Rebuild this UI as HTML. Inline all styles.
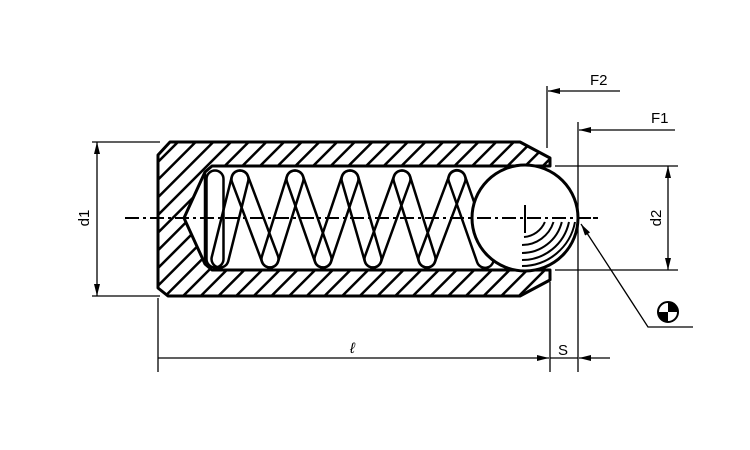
<!DOCTYPE html>
<html><head><style>
html,body{margin:0;padding:0;background:#fff;}
svg{display:block;}
text{font-family:"Liberation Sans",sans-serif;font-size:15px;fill:#000;}
</style></head><body>
<svg width="750" height="450" viewBox="0 0 750 450" xmlns="http://www.w3.org/2000/svg">
<defs>
<pattern id="h" patternUnits="userSpaceOnUse" width="12.5" height="12.5" patternTransform="rotate(45)">
<rect width="12.5" height="12.5" fill="#fff"/>
<line x1="0" y1="0" x2="0" y2="12.5" stroke="#000" stroke-width="5"/>
</pattern>
<marker id="a" viewBox="0 0 12 6" refX="12" refY="3" markerWidth="12" markerHeight="6" markerUnits="userSpaceOnUse" orient="auto"><path d="M0,0 L12,3 L0,6z" fill="#000"/></marker>
</defs>
<path fill="url(#h)" fill-rule="evenodd" stroke="#000" stroke-width="3" stroke-linejoin="round"
d="M158,155 L170,142 L520,142 L550,158 L550,166 L212,166 L205,172 L184,218 L205,264 L212,270 L550,270 L550,280 L520,296 L168,296 L158,288 Z"/>
<line x1="125" y1="218" x2="598" y2="218" stroke="#000" stroke-width="2" stroke-dasharray="14,4,3,4"/>
<g fill="none" stroke="#000" stroke-width="2.5">
<line x1="205" y1="172" x2="205" y2="264"/>
<rect x="-48.5" y="-8.5" width="97" height="17" rx="8.5" transform="translate(215,219) rotate(90)"/>
<rect x="-49.75" y="-8.5" width="99.5" height="17" rx="8.5" transform="translate(230,219) rotate(-76)"/>
<rect x="-51.2" y="-8.5" width="102.4" height="17" rx="8.5" transform="translate(255,219) rotate(69.4)"/>
<rect x="-50.4" y="-8.5" width="100.8" height="17" rx="8.5" transform="translate(282.5,219) rotate(-72.6)"/>
<rect x="-50.9" y="-8.5" width="101.8" height="17" rx="8.5" transform="translate(309,219) rotate(70.7)"/>
<rect x="-50.7" y="-8.5" width="101.4" height="17" rx="8.5" transform="translate(336.5,219) rotate(-71.4)"/>
<rect x="-50.1" y="-8.5" width="100.2" height="17" rx="8.5" transform="translate(361.5,219) rotate(74)"/>
<rect x="-51.05" y="-8.5" width="102.1" height="17" rx="8.5" transform="translate(387.5,219) rotate(-70.1)"/>
<rect x="-50.4" y="-8.5" width="100.8" height="17" rx="8.5" transform="translate(414.5,219) rotate(72.6)"/>
<rect x="-51.2" y="-8.5" width="102.4" height="17" rx="8.5" transform="translate(442,219) rotate(-69.4)"/>
<rect x="-51.2" y="-8.5" width="102.4" height="17" rx="8.5" transform="translate(471,219) rotate(70.7)"/>
</g>
<circle cx="525" cy="218" r="53" fill="#fff" stroke="#000" stroke-width="3"/>
<line x1="477" y1="218" x2="598" y2="218" stroke="#000" stroke-width="2" stroke-dasharray="14,4,3,4"/>
<line x1="525" y1="205" x2="525" y2="233" stroke="#000" stroke-width="2"/>
<g fill="none" stroke="#000" stroke-width="2">
<path d="M544.9,222 A25,25 0 0 1 524,237"/>
<path d="M553.5,222 A33,33 0 0 1 522,245"/>
<path d="M561.8,222 A41,41 0 0 1 522,253"/>
<path d="M569,222 A48,48 0 0 1 522,260"/>
<path d="M575,222 A54,54 0 0 1 522,266"/>
</g>
<g stroke="#000" stroke-width="1.3" fill="none">
<line x1="92" y1="142" x2="160" y2="142"/>
<line x1="92" y1="296" x2="160" y2="296"/>
<line x1="97" y1="218" x2="97" y2="142" marker-end="url(#a)"/>
<line x1="97" y1="218" x2="97" y2="296" marker-end="url(#a)"/>
<line x1="555" y1="166" x2="678" y2="166"/>
<line x1="555" y1="270" x2="678" y2="270"/>
<line x1="668" y1="218" x2="668" y2="166" marker-end="url(#a)"/>
<line x1="668" y1="218" x2="668" y2="270" marker-end="url(#a)"/>
<line x1="547" y1="86" x2="547" y2="148"/>
<line x1="620" y1="91" x2="548" y2="91" marker-end="url(#a)"/>
<line x1="578" y1="122" x2="578" y2="372"/>
<line x1="675" y1="130" x2="579" y2="130" marker-end="url(#a)"/>
<line x1="158" y1="298" x2="158" y2="372"/>
<line x1="550" y1="282" x2="550" y2="372"/>
<line x1="158" y1="358" x2="549" y2="358" marker-end="url(#a)"/>
<line x1="550" y1="358" x2="578" y2="358"/>
<line x1="610" y1="358" x2="579" y2="358" marker-end="url(#a)"/>
<polyline points="693,327 648,327 600,253"/>
<line x1="600" y1="253" x2="581" y2="224" marker-end="url(#a)"/>
</g>
<circle cx="668" cy="312" r="10" fill="#fff" stroke="#000" stroke-width="2"/>
<path d="M668,312 L668,302 A10,10 0 0 1 678,312 Z M668,312 L668,322 A10,10 0 0 1 658,312 Z" fill="#000"/>
<text x="590" y="85">F2</text>
<text x="651" y="123">F1</text>
<text x="558" y="355">S</text>
<text x="350" y="353" font-style="italic">ℓ</text>
<text transform="translate(89,218) rotate(-90)" text-anchor="middle">d1</text>
<text transform="translate(661,218) rotate(-90)" text-anchor="middle">d2</text>
</svg>
</body></html>
